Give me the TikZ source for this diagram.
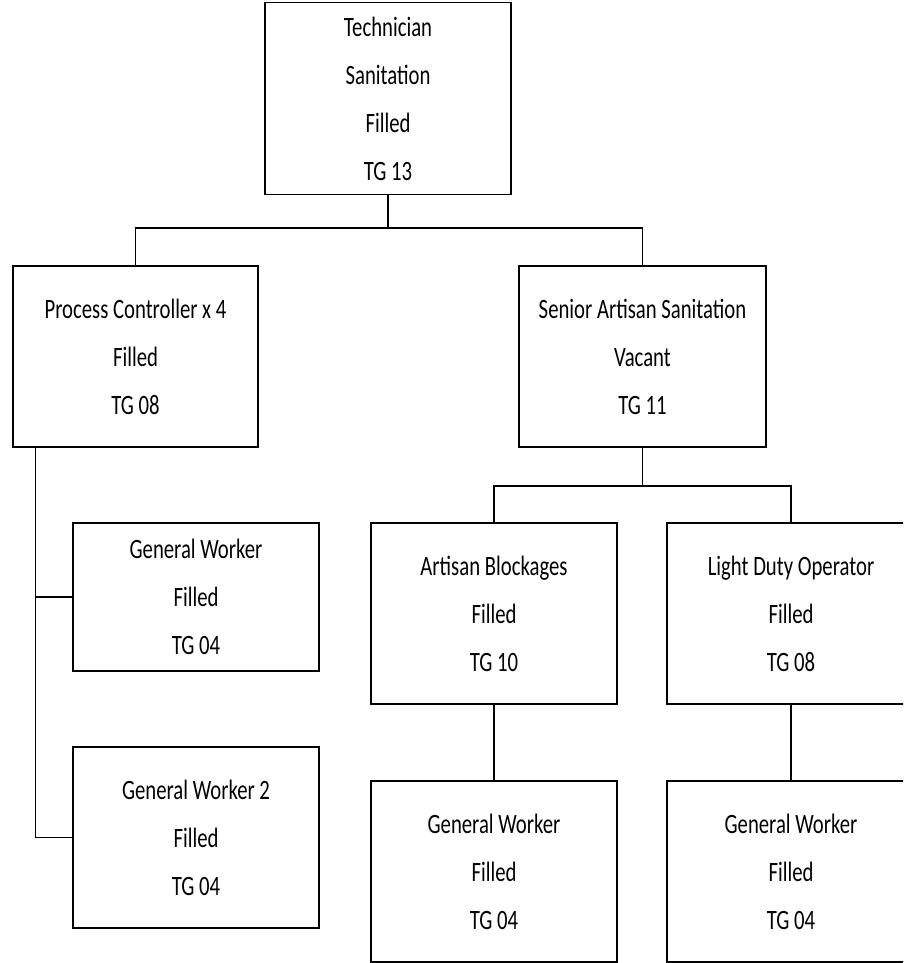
\documentclass[tikz,border=0pt]{standalone}
\usepackage{fontspec}
\setmainfont{Carlito}
\usepackage{graphicx}
\newcommand{\boxtext}[1]{\scalebox{0.74}[1]{\fontsize{28}{48}\selectfont\def\arraystretch{1}\begin{tabular}{@{}c@{}}#1\end{tabular}}}
\tikzset{
  orgbox/.style={draw=black, line width=1.5pt, fill=white, inner sep=0pt, anchor=center,
    minimum width=246pt, minimum height=181pt, font=\fontsize{28}{48}\selectfont},
  link/.style={draw=black, line width=1.3pt}
}
\begin{document}
\begin{tikzpicture}[x=1pt, y=-1pt]
\useasboundingbox (0,0) rectangle (903,963);
\clip (0,0) rectangle (903,963);
\fill[white] (0,0) rectangle (903,963);

\node[orgbox, minimum height=183pt] (top) at (388,98.5) {\boxtext{Technician\\Sanitation\\Filled\\TG 13}};
\node[orgbox, minimum width=245pt] (pc) at (135.5,356.5) {\boxtext{Process Controller x 4\\Filled\\TG 08}};
\node[orgbox, minimum width=247pt] (sen) at (642.5,356.5) {\boxtext{Senior Artisan Sanitation\\Vacant\\TG 11}};
\node[orgbox, minimum height=148pt] (gw1) at (196,597) {\boxtext{General Worker\\Filled\\TG 04}};
\node[orgbox] (gw2) at (196,837.5) {\boxtext{General Worker 2\\Filled\\TG 04}};
\node[orgbox] (ab) at (494,613.5) {\boxtext{Artisan Blockages\\Filled\\TG 10}};
\node[orgbox, minimum width=248pt] (ldo) at (791,613.5) {\boxtext{Light Duty Operator\\Filled\\TG 08}};
\node[orgbox] (gwm) at (494,871.5) {\boxtext{General Worker\\Filled\\TG 04}};
\node[orgbox, minimum width=248pt] (gwr) at (791,871.5) {\boxtext{General Worker\\Filled\\TG 04}};

\coordinate (b1) at (388,228);
\coordinate (b2) at (642.5,486);
\coordinate (pcl) at ([xshift=23pt]pc.south west);

\draw[link] (top.south) -- (b1);
\draw[link] (pc.north) |- (b1) -| (sen.north);
\draw[link] (sen.south) -- (b2);
\draw[link] (ab.north) |- (b2) -| (ldo.north);
\draw[link] (pcl) |- (gw2.west);
\draw[link] (pcl |- gw1.west) -- (gw1.west);
\draw[link] (ab.south) -- (gwm.north);
\draw[link] (ldo.south) -- (gwr.north);
\end{tikzpicture}
\end{document}
